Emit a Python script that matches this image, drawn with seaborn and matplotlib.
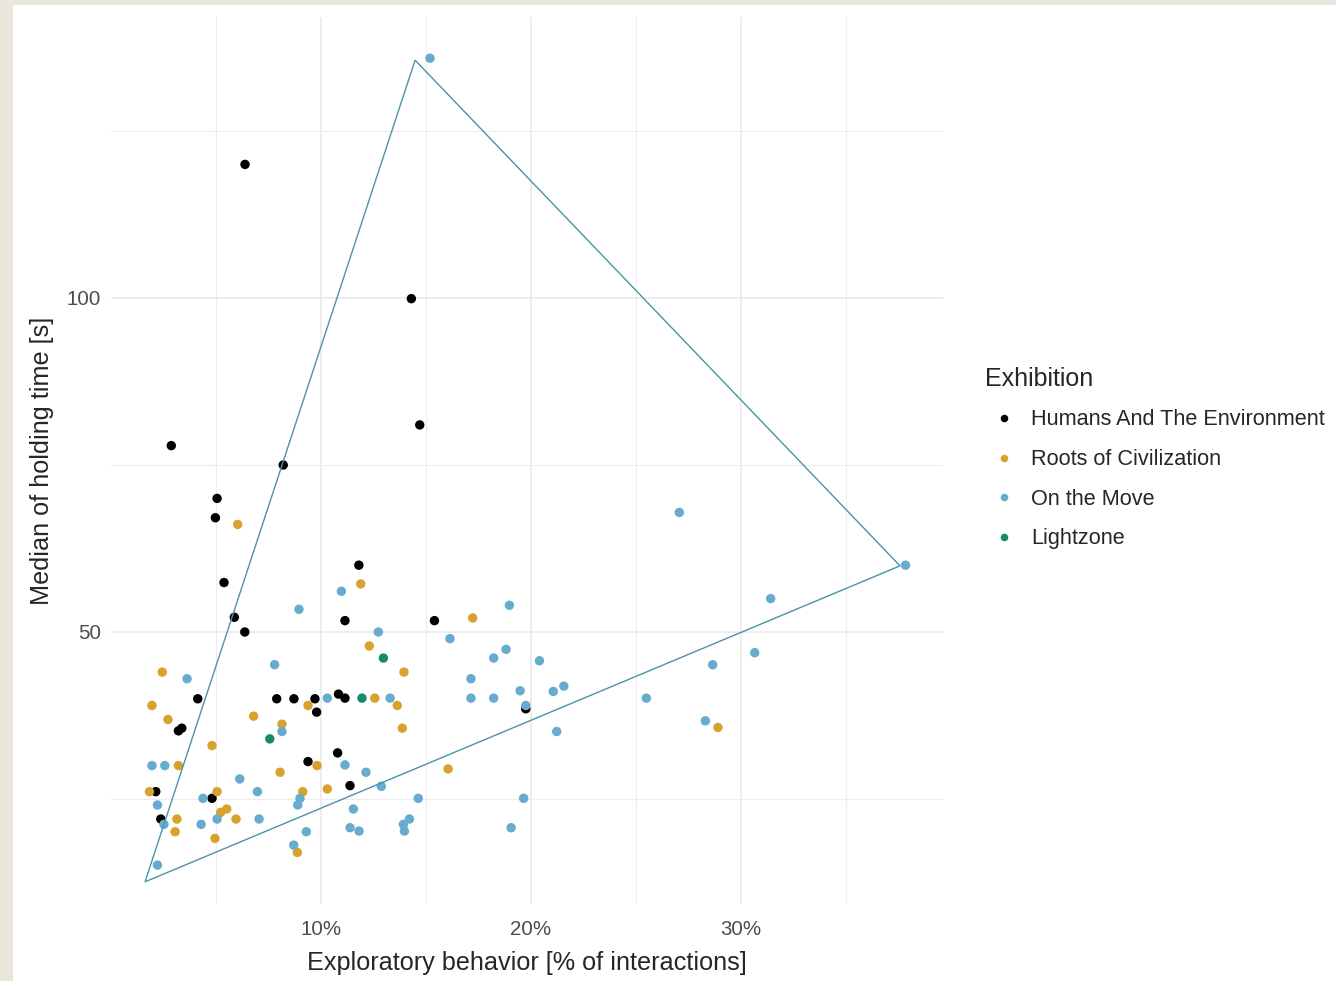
import numpy as np
import pandas as pd
from matplotlib import pyplot as plt
from matplotlib.patches import Rectangle, Polygon
from matplotlib.ticker import FuncFormatter
import seaborn as sns

sns.set_style('whitegrid')
plt.rcParams['font.family'] = ['Liberation Sans', 'DejaVu Sans']

# Humans And The Environment
humans_x = [6.38, 14.3, 14.7, 2.87, 8.2, 5.05, 4.97, 5.38, 11.8, 5.87,
            6.37, 11.14, 15.4, 4.13, 7.89, 8.71, 9.71, 9.79, 3.21, 3.37,
            9.38, 2.13, 4.81, 2.37, 10.83, 11.14, 10.79, 11.38, 19.75]
humans_y = [120.0, 99.9, 81.0, 77.9, 75.0, 70.0, 67.1, 57.4, 60.0, 52.2,
            50.0, 51.7, 51.7, 40.0, 40.0, 40.0, 40.0, 38.0, 35.2, 35.6,
            30.6, 26.1, 25.1, 22.0, 40.7, 40.1, 31.9, 27.0, 38.5]

# Roots of Civilization
roots_x = [6.03, 11.89, 17.22, 12.3, 13.95, 2.44, 1.95, 2.71, 6.79, 9.38,
           8.14, 4.81, 3.21, 9.81, 8.05, 1.83, 5.05, 9.13, 10.3, 5.22,
           5.51, 3.14, 5.95, 3.05, 4.95, 8.87, 12.56, 13.63, 13.87, 16.05, 28.9]
roots_y = [66.1, 57.2, 52.1, 47.9, 44.0, 44.0, 39.0, 36.9, 37.4, 39.0,
           36.2, 33.0, 30.0, 30.0, 29.0, 26.1, 26.1, 26.1, 26.5, 23.0,
           23.5, 22.0, 22.0, 20.1, 19.1, 17.0, 40.1, 39.0, 35.6, 29.5, 35.7]

# On the Move
move_x = [15.19, 37.83, 27.06, 31.41, 30.65, 28.65, 25.49, 28.3, 20.4, 21.06,
          21.56, 21.22, 18.97, 12.73, 16.14, 18.22, 18.81, 17.14, 17.14, 18.22,
          19.48, 19.75, 10.3, 13.29, 11.14, 12.14, 12.87, 14.63, 19.65, 11.54,
          11.38, 11.81, 14.21, 13.92, 13.97, 19.05, 7.79, 3.62, 8.14, 1.95,
          2.56, 6.13, 6.97, 2.21, 4.38, 9.0, 8.89, 2.52, 4.29, 5.05,
          7.05, 9.3, 8.7, 2.21, 8.95, 10.97]
move_y = [135.9, 60.0, 67.9, 55.0, 46.9, 45.1, 40.1, 36.7, 45.7, 41.1,
          41.9, 35.1, 54.0, 50.0, 49.0, 46.1, 47.4, 43.0, 40.1, 40.1,
          41.2, 39.0, 40.1, 40.1, 30.1, 29.0, 26.9, 25.1, 25.1, 23.5,
          20.7, 20.2, 22.0, 21.2, 20.2, 20.7, 45.1, 43.0, 35.1, 30.0,
          30.0, 28.0, 26.1, 24.1, 25.1, 25.1, 24.1, 21.2, 21.2, 22.0,
          22.0, 20.1, 18.1, 15.1, 53.4, 56.1]

# Lightzone
light_x = [7.56, 12.97, 11.95]
light_y = [34.0, 46.1, 40.1]

# triangle drawn over the scatter
tri_x = [14.48, 37.57, 1.62]
tri_y = [135.6, 59.9, 12.6]

groups = ['Humans And The Environment', 'Roots of Civilization', 'On the Move', 'Lightzone']
colors = ['#000000', '#D9A22C', '#67ABCF', '#18896C']

df = pd.concat([
    pd.DataFrame({'x': humans_x, 'y': humans_y, 'Exhibition': groups[0]}),
    pd.DataFrame({'x': roots_x, 'y': roots_y, 'Exhibition': groups[1]}),
    pd.DataFrame({'x': move_x, 'y': move_y, 'Exhibition': groups[2]}),
    pd.DataFrame({'x': light_x, 'y': light_y, 'Exhibition': groups[3]}),
])

fig = plt.figure(figsize=(13.36, 9.81), dpi=100)
fig.patch.set_facecolor('#EAE6DC')
fig.patches.append(Rectangle((13 / 1336, 0), 1, 1 - 5 / 981, transform=fig.transFigure,
                             facecolor='white', edgecolor='none', zorder=-10))

ax = fig.add_axes([0.0831, 0.0785, 0.6228, 0.9042])
ax.set_facecolor('white')

sns.scatterplot(data=df, x='x', y='y', hue='Exhibition', hue_order=groups,
                palette=dict(zip(groups, colors)), s=46, linewidth=0, ax=ax)

ax.add_patch(Polygon(list(zip(tri_x, tri_y)), closed=True, fill=False,
                     edgecolor='#4A93A8', linewidth=1.0, zorder=3))

ax.set_xlim(0, 39.62)
ax.set_ylim(9.28, 142.07)
ax.set_xticks([10, 20, 30])
ax.set_xticks([5, 15, 25, 35], minor=True)
ax.set_yticks([50, 100])
ax.set_yticks([25, 75, 125], minor=True)
ax.xaxis.set_major_formatter(FuncFormatter(lambda v, p: f'{v:.0f}%'))
ax.grid(which='major', color='#E8E8E8', linewidth=1.1)
ax.grid(which='minor', color='#EDEDED', linewidth=0.8)
ax.tick_params(which='both', length=0, labelsize=14.8, labelcolor='#4D4D4D')
ax.tick_params(axis='x', pad=11.5)
ax.tick_params(axis='y', pad=7)
for sp in ax.spines.values():
    sp.set_visible(False)

ax.set_xlabel('Exploratory behavior [% of interactions]', fontsize=18.2, labelpad=8.5)
ax.set_ylabel('Median of holding time [s]', fontsize=18.2, labelpad=9.5)

sns.move_legend(ax, 'upper left', bbox_to_anchor=(974 / 1336, 1 - 356 / 981),
                bbox_transform=fig.transFigure, frameon=False, title='Exhibition',
                fontsize=15.6, title_fontsize=18, markerscale=0.8, labelspacing=0.86,
                handletextpad=0.32, handlelength=1.8, borderpad=0, alignment='left')

fig.savefig('out.png', dpi=100, facecolor=fig.get_facecolor())
